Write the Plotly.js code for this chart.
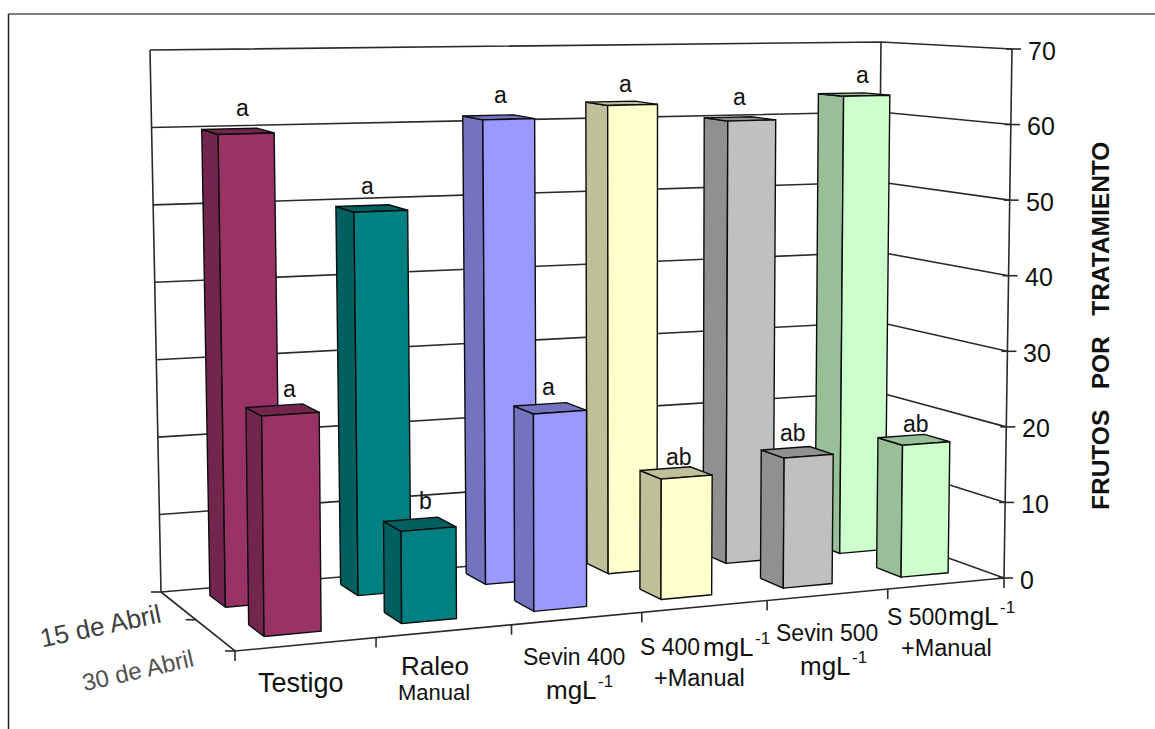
<!DOCTYPE html>
<html>
<head>
<meta charset="utf-8">
<script src="https://cdn.plot.ly/plotly-3.0.1.min.js"></script>
<style>html,body{margin:0;padding:0;background:#fff;overflow:hidden}</style>
</head>
<body>
<div id="chart" style="width:1155px;height:729px"></div>
<script>
// Fruit per treatment, two sampling dates
const treatmentNames = ['Testigo', 'Raleo', 'Sevin 400', 'S 400', 'Sevin 500', 'S 500'];
const treatmentNotes = ['', 'Manual', '', '+Manual', '', '+Manual'];
const unitText = 'mgL';
const unitPower = '-1';
const dates = ['15 de Abril', '30 de Abril'];
const abril15 = [60, 49.5, 61, 62.5, 60, 63];
const abril30 = [27, 11.5, 25, 15.5, 17, 17.5];
const letras15 = ['a', 'a', 'a', 'a', 'a', 'a'];
const letras30 = ['a', 'b', 'a', 'ab', 'ab', 'ab'];
const valueTicks = [0, 10, 20, 30, 40, 50, 60, 70];
const axisTitle = 'FRUTOS\u00a0\u00a0\u00a0POR\u00a0\u00a0\u00a0TRATAMIENTO';

const palette = [
  {front: '#993366', side: '#73264D'},
  {front: '#008080', side: '#006060'},
  {front: '#9999FF', side: '#7373BF'},
  {front: '#FFFFCC', side: '#BFBF99'},
  {front: '#C0C0C0', side: '#909090'},
  {front: '#CCFFCC', side: '#99BF99'}
];

// Oblique box the chart sits in, as page coordinates of its eight corners
const box = {
  floor: {bl: [161, 592], br: [876, 532], fl: [235, 651], fr: [1004, 578]},
  roof:  {bl: [150, 50],  br: [881, 42],  fl: [229, 70],  fr: [1012, 49]}
};
const vMax = 70;
const warp = (t, k) => k * t / (1 + (k - 1) * t);
const mix = (a, b, t) => [a[0] + (b[0] - a[0]) * t, a[1] + (b[1] - a[1]) * t];

// cat: 0..6 along the front, depth: 0 (back) .. 1 (front), val: chart units
function project(cat, depth, val) {
  const u = warp(cat / 6, 1.123), d = warp(depth, 0.887), w = val / vMax;
  const plane = p => mix(mix(p.bl, p.br, u), mix(p.fl, p.fr, u), d);
  return mix(plane(box.floor), plane(box.roof), w);
}

const traces = [];
function path(points, opts) {
  const o = opts || {};
  traces.push({
    type: 'scatter', mode: 'lines',
    x: points.map(p => p[0]), y: points.map(p => p[1]),
    fill: o.fill ? 'toself' : 'none', fillcolor: o.fill,
    line: {color: o.color || '#2a2a2a', width: o.width || 1.6},
    hoverinfo: 'skip', showlegend: false
  });
}

// Walls and gridlines
valueTicks.forEach(v => {
  path([project(0, 0, v), project(6, 0, v), project(6, 1, v)]);
});
path([project(0, 0, 0), project(0, 0, vMax)]);
path([project(6, 0, 0), project(6, 0, vMax)]);
path([project(6, 1, 0), project(6, 1, vMax)]);

// Floor edges
path([project(0, 0, 0), project(0, 1, 0), project(6, 1, 0)]);

const annotations = [];
const label = (x, y, text, size, extra) => annotations.push(Object.assign({
  xref: 'x', yref: 'y', x, y, text, showarrow: false,
  font: {family: 'Liberation Sans, Arial, sans-serif', size, color: '#111111'}
}, extra || {}));

// Tick marks
valueTicks.forEach(v => {
  const p = project(6, 1, v);
  path([[p[0] - 6, p[1]], [p[0] + 9, p[1]]]);
  label(p[0] + 14, p[1] + 1.5, String(v), 25, {xanchor: 'left', yanchor: 'middle'});
});
for (let c = 0; c <= 6; c++) {
  const p = project(c, 1, 0);
  path([p, [p[0], p[1] + 10]]);
}
[0, 0.5, 1].forEach(d => {
  const p = project(0, d, 0);
  path([[p[0] - 10, p[1]], p]);
});

// One box per bar: side face, top face, front face
const barStart = 0.30, barEnd = 0.71;
const rows = [
  {vals: abril15, tags: letras15, near: 0.345, far: 0.13, nudgeX: [1, -7, -1, 1, -4, 5], nudgeY: [0, 1, 1, 4, 1, 3]},
  {vals: abril30, tags: letras30, near: 0.837, far: 0.648, nudgeX: [4, 3, -5, 0, -7, -1], nudgeY: [2, 0, 2, 7, 4, 7]}
];
rows.forEach(row => {
  row.vals.forEach((val, c) => {
    const a = c + barStart, b = c + barEnd, col = palette[c];
    const ln = {color: '#0c0c0c', width: 1.4};
    path([project(a, row.far, 0), project(a, row.near, 0), project(a, row.near, val),
          project(a, row.far, val), project(a, row.far, 0)],
         Object.assign({fill: col.side}, ln));
    path([project(a, row.far, val), project(a, row.near, val), project(b, row.near, val),
          project(b, row.far, val), project(a, row.far, val)],
         Object.assign({fill: col.side}, ln));
    path([project(a, row.near, 0), project(b, row.near, 0), project(b, row.near, val),
          project(a, row.near, val), project(a, row.near, 0)],
         Object.assign({fill: col.front}, ln));
    const top = project(c + 0.5, (row.near + row.far) / 2, val);
    label(top[0] + 4 + row.nudgeX[c], top[1] - 23 + row.nudgeY[c], row.tags[c], 23, {yanchor: 'middle'});
  });
});

// Treatment names below the front edge: name, optional note, optional unit with its power
const nameAt = [
  {x: 301, y: 683, size: 27, anchor: 'center'},
  {x: 435, y: 666, size: 26, anchor: 'center'},
  {x: 574, y: 657, size: 23, anchor: 'center'},
  {x: 638, y: 647, size: 23, anchor: 'left'},
  {x: 827, y: 633, size: 23, anchor: 'center'},
  {x: 885, y: 617, size: 23, anchor: 'left'}
];
const noteAt = [null, {x: 434, y: 692, size: 22}, null, {x: 699, y: 678, size: 23.5}, null, {x: 946, y: 648, size: 23.5}];
const unitAt = [null, null, {x: 544, y: 690}, {x: 701, y: 647}, {x: 798, y: 666}, {x: 946, y: 616}];
treatmentNames.forEach((name, c) => {
  const n = nameAt[c];
  label(n.x, n.y, name, n.size, {xanchor: n.anchor, yanchor: 'middle'});
  if (noteAt[c]) label(noteAt[c].x, noteAt[c].y, treatmentNotes[c], noteAt[c].size, {yanchor: 'middle'});
  if (unitAt[c]) {
    label(unitAt[c].x, unitAt[c].y, unitText, 26, {xanchor: 'left', yanchor: 'middle'});
    label(unitAt[c].x + 52, unitAt[c].y - 9, unitPower, 17, {xanchor: 'left', yanchor: 'middle'});
  }
});

// Date names along the depth axis
label(100, 626, dates[0], 26, {textangle: -12, font: {family: 'Liberation Sans, Arial, sans-serif', size: 26, color: '#404040'}});
label(137, 670, dates[1], 24, {textangle: -13, font: {family: 'Liberation Sans, Arial, sans-serif', size: 24, color: '#505050'}});

// Value axis title
label(1100, 326, '<b>' + axisTitle + '</b>', 24.5, {textangle: -90});

const layout = {
  width: 1155, height: 729,
  margin: {l: 0, r: 0, t: 0, b: 0},
  paper_bgcolor: '#ffffff', plot_bgcolor: '#ffffff',
  xaxis: {range: [0, 1155], visible: false, fixedrange: true},
  yaxis: {range: [729, 0], visible: false, fixedrange: true},
  showlegend: false,
  annotations,
  shapes: [
    {type: 'line', xref: 'x', yref: 'y', x0: 8.5, y0: 14, x1: 1155, y1: 14, line: {color: '#555555', width: 1.5}},
    {type: 'line', xref: 'x', yref: 'y', x0: 8.5, y0: 14, x1: 8.5, y1: 729, line: {color: '#222222', width: 1.5}}
  ]
};
Plotly.newPlot('chart', traces, layout, {displayModeBar: false, staticPlot: true});
</script>
</body>
</html>
